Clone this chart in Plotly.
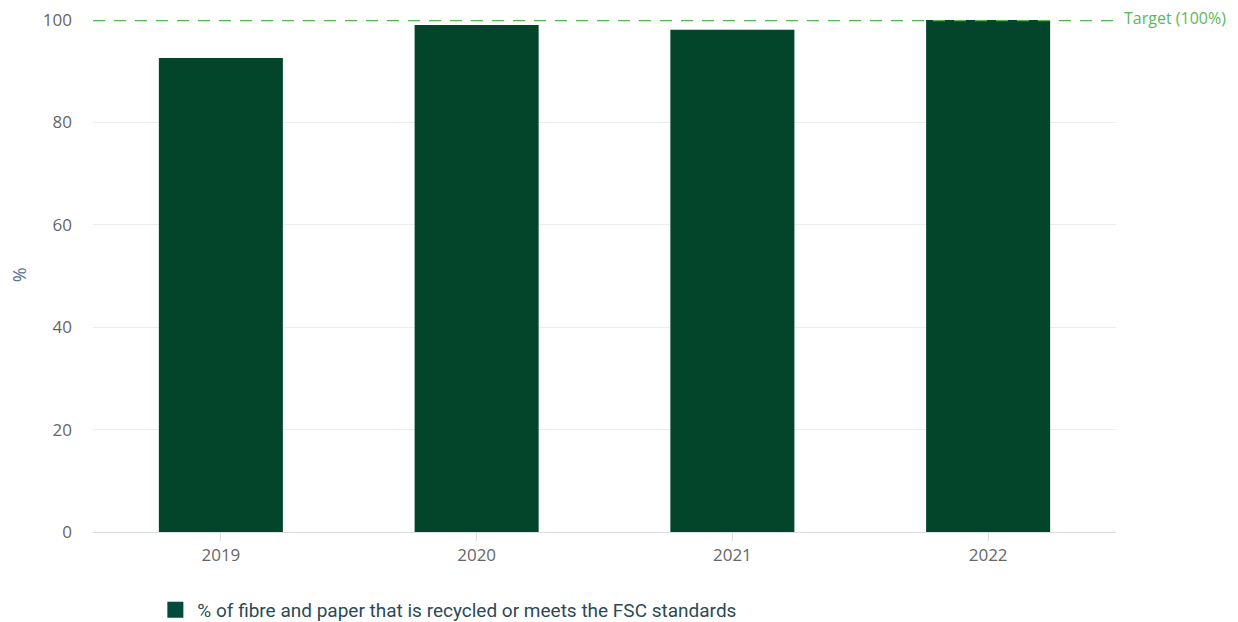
import plotly.graph_objects as go

years = ["2019", "2020", "2021", "2022"]
values = [92.6, 99.0, 98.1, 100.0]
target = 100
series_name = "% of fibre and paper that is recycled or meets the FSC standards"
target_label = "Target (100%)"
y_title = "%"
y_ticks = [0, 20, 40, 60, 80, 100]
bar_color = "#03452A"

fig = go.Figure()
fig.add_trace(go.Bar(
    x=years, y=values, name=series_name, showlegend=False,
    marker=dict(color=bar_color, line=dict(width=0)),
))
# legend entry with a larger square swatch
fig.add_trace(go.Scatter(
    x=[None], y=[None], mode="markers", name=series_name,
    marker=dict(symbol="square", size=17, color="#034A3A"),
))

fig.add_shape(type="line", xref="paper", yref="y", x0=0, x1=1, y0=target, y1=target,
              line=dict(color="#55B553", width=2.5, dash="12px,9px"), layer="above")
fig.add_annotation(xref="paper", yref="y", x=1.006, y=target, text=target_label,
                   showarrow=False, xanchor="left", yanchor="middle", yshift=2,
                   font=dict(family="Open Sans", size=16, color="#5DB65A"))
fig.add_annotation(xref="paper", yref="paper", x=-0.0715, y=0.503, text=y_title,
                   showarrow=False, xanchor="center", yanchor="middle", textangle=-90,
                   font=dict(family="Open Sans", size=18, color="#5A7196"))

fig.update_layout(
    width=1238, height=622,
    margin=dict(l=93, r=122, t=20, b=90, autoexpand=False),
    paper_bgcolor="white", plot_bgcolor="white",
    bargap=0.515,
    showlegend=True,
    legend=dict(orientation="h", x=0.059, xanchor="left", y=-0.152, yanchor="middle",
                font=dict(family="Roboto", size=19, color="#2B4A55"),
                itemwidth=34, itemsizing="trace"),
    xaxis=dict(showgrid=False, showline=True, linecolor="#d8dde6", linewidth=1,
               ticks="outside", ticklen=8, tickcolor="#d8dde6", automargin=False,
               tickfont=dict(family="Open Sans", size=17, color="#666666")),
    yaxis=dict(range=[0, 100], tickvals=y_ticks, showgrid=True, gridcolor="#ececec",
               zeroline=False, showline=False, automargin=False,
               ticks="", ticklabelstandoff=20,
               tickfont=dict(family="Open Sans", size=17, color="#666666")),
)

fig.write_html("out.html")
